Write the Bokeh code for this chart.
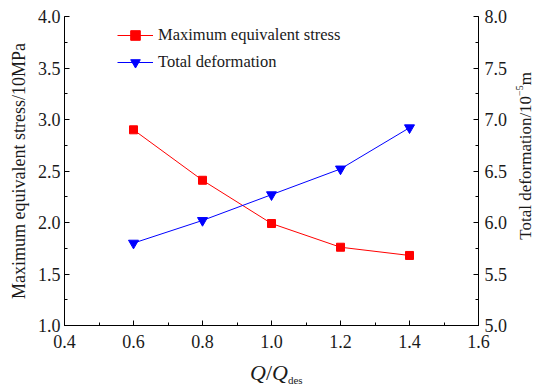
from bokeh.plotting import figure
from bokeh.layouts import column, row
from bokeh.models import (Range1d, LinearAxis, SingleIntervalTicker, Legend, LegendItem, Div,
                          NumeralTickFormatter)
from bokeh.embed import file_html
from bokeh.resources import INLINE

# data
q_ratio = [0.6, 0.8, 1.0, 1.2, 1.4]
max_stress = [2.90, 2.41, 1.99, 1.76, 1.68]        # /10 MPa
total_deformation = [5.80, 6.02, 6.27, 6.52, 6.92]  # /1e-5 m

FONT = "Liberation Serif"
RED = "#FF0000"
BLUE = "#0000FF"
TXT = "#1a1a1a"

p = figure(width=516, height=360, output_backend="svg", toolbar_location=None,
           x_range=Range1d(0.4, 1.6), y_range=Range1d(1.0, 4.0),
           min_border_left=64, min_border_right=38, min_border_top=16, min_border_bottom=35)
p.extra_y_ranges = {"def": Range1d(5.0, 8.0)}
p.xgrid.visible = False
p.ygrid.visible = False
p.outline_line_color = None
p.background_fill_color = "white"
p.border_fill_color = "white"

def style_axis(ax, interval, standoff):
    ax.ticker = SingleIntervalTicker(interval=interval, num_minor_ticks=2)
    ax.formatter = NumeralTickFormatter(format="0.0")
    ax.major_tick_in = 5
    ax.major_tick_out = 0
    ax.minor_tick_in = 3
    ax.minor_tick_out = 0
    ax.axis_line_color = "black"
    ax.major_tick_line_color = "black"
    ax.minor_tick_line_color = "black"
    ax.major_label_text_font = FONT
    ax.major_label_text_font_size = "18px"
    ax.major_label_text_color = TXT
    ax.axis_label_text_font = FONT
    ax.axis_label_text_font_size = "18px"
    ax.axis_label_text_font_style = "normal"
    ax.axis_label_text_color = TXT
    ax.major_label_standoff = standoff
    ax.axis_label_standoff = 6

style_axis(p.xaxis[0], 0.2, 9)
style_axis(p.yaxis[0], 0.5, 4)
p.yaxis[0].axis_label = "Maximum equivalent stress/10MPa"

right = LinearAxis(y_range_name="def")
style_axis(right, 0.5, 6)
p.add_layout(right, "right")

l1 = p.line(q_ratio, max_stress, line_color=RED, line_width=1)
m1 = p.scatter(q_ratio, max_stress, marker="square", size=8, fill_color=RED, line_color=RED)
l2 = p.line(q_ratio, total_deformation, line_color=BLUE, line_width=1, y_range_name="def")
m2 = p.scatter(q_ratio, total_deformation, marker="inverted_triangle", size=10,
               fill_color=BLUE, line_color=BLUE, y_range_name="def")

legend = Legend(items=[LegendItem(label="Maximum equivalent stress", renderers=[l1, m1]),
                       LegendItem(label="Total deformation", renderers=[l2, m2])],
                location=(53, 251), padding=0, margin=0, spacing=3,
                glyph_width=36, glyph_height=24, label_height=24, label_standoff=5,
                border_line_color=None, background_fill_alpha=0,
                label_text_font=FONT, label_text_font_size="16.5px", label_text_color=TXT)
p.add_layout(legend, "center")

xlabel = Div(
    text=('<div style="padding-left:250px; font-family:\'Liberation Serif\'; font-size:22px; '
          'line-height:26px; color:#1a1a1a; white-space:nowrap;">'
          '<i>Q</i>/<i>Q</i><span style="font-size:11px; vertical-align:-4px;">des</span></div>'),
    width=516, height=26, margin=0)

ylabel_right = Div(
    text=('<div style="position:relative; top:-6px; left:-5px;">'
          '<div style="padding-top:78px;">'
          '<div style="writing-mode:vertical-rl; transform:rotate(180deg); '
          'font-family:\'Liberation Serif\'; font-size:17px; line-height:17px; '
          'color:#1a1a1a; white-space:nowrap;">'
          'Total deformation/10<span style="font-size:10px; vertical-align:6px;">\u22125</span>m'
          '</div></div></div>'),
    width=20, height=386, margin=0)

layout = row(column(p, xlabel, spacing=0), ylabel_right, spacing=0)

open("out.html", "w").write(file_html(layout, INLINE))
